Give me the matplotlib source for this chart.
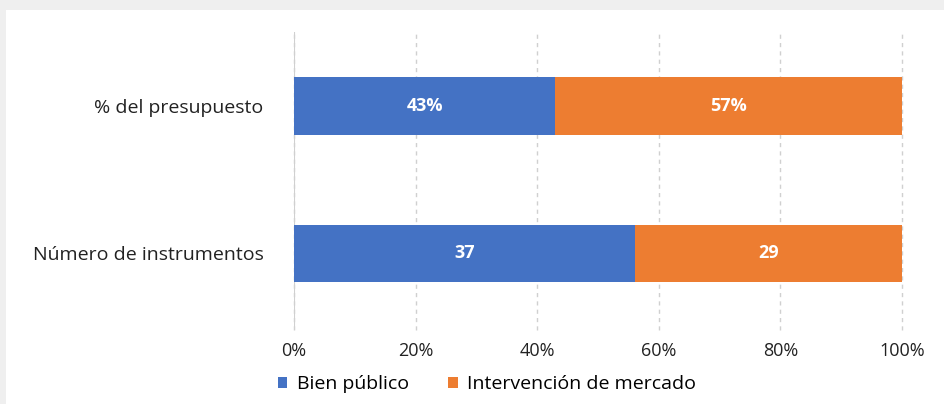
import matplotlib
matplotlib.use('Agg')
import matplotlib.pyplot as plt
from matplotlib.patches import Rectangle
from matplotlib.ticker import PercentFormatter

categories = ['Número de instrumentos', '% del presupuesto']
bien_publico = [37, 43]
intervencion = [29, 57]
bien_labels = ['37', '43%']
interv_labels = ['29', '57%']
series_names = ['Bien público', 'Intervención de mercado']
ticks = [0, 20, 40, 60, 80, 100]

BLUE = '#4472C4'
ORANGE = '#ED7D31'

plt.rcParams['font.family'] = ['Open Sans', 'DejaVu Sans']

fig = plt.figure(figsize=(9.45, 4.04), dpi=100, facecolor='#efefef')
fig.patches.append(Rectangle((6 / 945, 0), 1, (404 - 10) / 404,
                             transform=fig.transFigure, facecolor='white',
                             edgecolor='none', zorder=-5))
ax = fig.add_axes([294 / 945, 1 - 330 / 404, 608 / 945, 298 / 404])
ax.set_facecolor('none')

totals = [b + i for b, i in zip(bien_publico, intervencion)]
bp_pct = [b / t * 100 for b, t in zip(bien_publico, totals)]
iv_pct = [i / t * 100 for i, t in zip(intervencion, totals)]
ypos = list(range(len(categories)))

bars1 = ax.barh(ypos, bp_pct, height=0.39, color=BLUE, label=series_names[0], zorder=2)
bars2 = ax.barh(ypos, iv_pct, left=bp_pct, height=0.39, color=ORANGE,
                label=series_names[1], zorder=2)

# white value labels in the middle of each segment
for bars, labels in [(bars1, bien_labels), (bars2, interv_labels)]:
    for bar, lab in zip(bars, labels):
        ax.text(bar.get_x() + bar.get_width() / 2, bar.get_y() + bar.get_height() / 2,
                lab, ha='center', va='center', color='white', fontsize=13,
                fontweight='bold')

ax.set_xlim(0, 100)
ax.set_ylim(-0.52, 1.5)
ax.set_xticks(ticks)
ax.xaxis.set_major_formatter(PercentFormatter(decimals=0))
ax.set_yticks(ypos)
ax.set_yticklabels(categories)
ax.tick_params(axis='both', length=0, colors='#222222')
ax.tick_params(axis='x', pad=9, labelsize=13)
ax.tick_params(axis='y', pad=22, labelsize=14)
ax.grid(axis='x', color='#d0d0d0', linestyle=(0, (3, 3)), linewidth=1, zorder=1)
for line in ax.get_xgridlines():
    line.set_clip_on(False)
for s in ax.spines.values():
    s.set_visible(False)
ax.axvline(0, color='#d0d0d0', linewidth=1.5, zorder=1)

fig.legend(handles=[bars1, bars2], labels=series_names, loc='center',
           bbox_to_anchor=(487 / 945, 1 - 384 / 404), ncol=2, frameon=False,
           fontsize=14, handlelength=0.5, handleheight=0.5, handletextpad=0.5,
           columnspacing=2.0)

fig.savefig('out.png', dpi=100, facecolor=fig.get_facecolor())
